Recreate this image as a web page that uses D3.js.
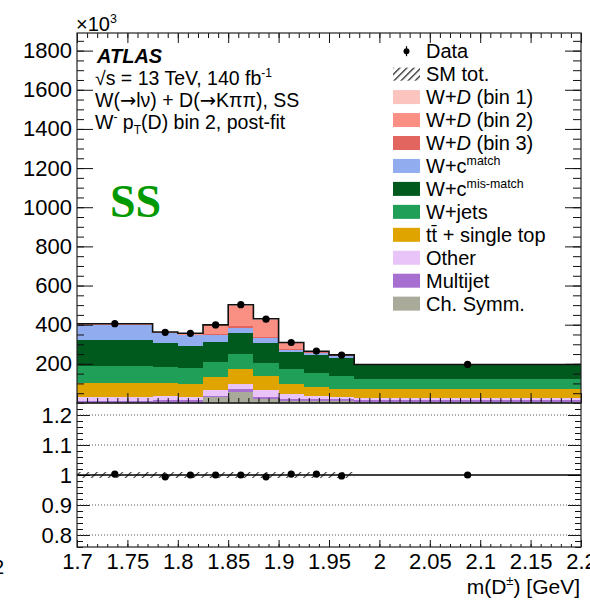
<!DOCTYPE html>
<html><head><meta charset="utf-8">
<script src="https://cdn.jsdelivr.net/npm/d3@7"></script>
<style>
html,body{margin:0;padding:0;background:#fff;}
svg{display:block;font-family:"Liberation Sans",Arial,Helvetica,sans-serif;}
</style></head><body>
<svg id="c" width="590" height="602"></svg>
<script>
// m(D) binning [GeV]
const binEdges = [1.7, 1.775, 1.8, 1.825, 1.85, 1.875, 1.9, 1.925, 1.95, 1.975, 2.2];
// post-fit yields per bin, in units of 10^3 events
const chSymm   = [2, 2, 2, 31, 55, 18, 10, 8, 8, 4];
const multijet = [9, 12, 12, 7, 14, 12, 11, 11, 10, 9];
const other    = [21, 21, 18, 28, 29, 36, 24, 16, 12, 14];
const topQuark = [69, 68, 67, 68, 78, 71, 52, 48, 44, 44];
const wJets    = [90, 79, 81, 74, 75, 68, 75, 71, 66, 53];
const wcMis    = [133, 122, 113, 104, 107, 102, 89, 90, 91, 70];
const wcMatch  = [76, 54, 53, 37, 26, 25, 12, 13, 11, 2];
const wdBin3   = [0, 1, 2, 5, 8, 4, 2, 1, 1, 0];
const wdBin2   = [3, 3, 7, 42, 106, 90, 32, 5, 2, 1];
const wdBin1   = [2, 1, 1, 3, 4, 4, 2, 1, 1, 0];
const dataVals = [405, 361, 356, 399, 502, 428, 309, 265, 245, 197];
const ratioVals = [1.003, 0.994, 1.0, 1.0, 1.0, 0.994, 1.003, 1.003, 0.997, 1.0];
// axis ticks
const yTickLabels = [200, 400, 600, 800, 1000, 1200, 1400, 1600, 1800];
const ratioTickLabels = [0.8, 0.9, 1, 1.1, 1.2];
const xTickLabels = [1.7, 1.75, 1.8, 1.85, 1.9, 1.95, 2, 2.05, 2.1, 2.15, 2.2];

// stack components, bottom to top
const components = [
  {key: "chSymm",   values: chSymm,   color: "#a9aa9a", label: [{t: "Ch. Symm."}]},
  {key: "multijet", values: multijet, color: "#a66fd0", label: [{t: "Multijet"}]},
  {key: "other",    values: other,    color: "#e8c4f8", label: [{t: "Other"}]},
  {key: "top",      values: topQuark, color: "#e0a400", label: [{t: "tt\u0304 + single top"}]},
  {key: "wjets",    values: wJets,    color: "#1f9f58", label: [{t: "W+jets"}]},
  {key: "wcMis",    values: wcMis,    color: "#005a1d", label: [{t: "W+c"}, {t: "mis-match", sup: true}]},
  {key: "wcMatch",  values: wcMatch,  color: "#92acf0", label: [{t: "W+c"}, {t: "match", sup: true}]},
  {key: "wdBin3",   values: wdBin3,   color: "#e2665f", label: [{t: "W+"}, {t: "D", it: true}, {t: " (bin 3)"}]},
  {key: "wdBin2",   values: wdBin2,   color: "#fa8f84", label: [{t: "W+"}, {t: "D", it: true}, {t: " (bin 2)"}]},
  {key: "wdBin1",   values: wdBin1,   color: "#fbc4be", label: [{t: "W+"}, {t: "D", it: true}, {t: " (bin 1)"}]}
];

const svg = d3.select("#c");
const X0 = 77, X1 = 581, TOP = 33, MID = 403, BOT = 547;

const x = d3.scaleLinear().domain([1.7, 2.2]).range([X0, X1]);
const y = d3.scaleLinear().domain([0, 1890]).range([MID, TOP]);
const ry = d3.scaleLinear().domain([0.76, 1.24]).range([BOT, MID]);

// hatch patterns for the SM uncertainty
const defs = svg.append("defs");
function hatch(id, w, sw) {
  const p = defs.append("pattern").attr("id", id).attr("patternUnits", "userSpaceOnUse")
    .attr("width", w).attr("height", w).attr("patternTransform", "rotate(45)");
  p.append("line").attr("x1", 0.6).attr("y1", 0).attr("x2", 0.6).attr("y2", w)
    .attr("stroke", "#222").attr("stroke-width", sw);
}
hatch("hatchR", 6, 1.0);
hatch("hatchL", 5, 1.4);

// table of bins
const bins = d3.range(binEdges.length - 1).map(i => {
  const o = {lo: binEdges[i], hi: binEdges[i + 1]};
  components.forEach(c => { o[c.key] = c.values[i]; });
  return o;
});
const stack = d3.stack().keys(components.map(c => c.key));
const series = stack(bins);

const gMain = svg.append("g");
series.forEach((s, k) => {
  gMain.append("g").attr("fill", components[k].color).selectAll("rect")
    .data(s).join("rect")
    .attr("x", d => x(d.data.lo))
    .attr("width", d => x(d.data.hi) - x(d.data.lo))
    .attr("y", d => y(d[1]))
    .attr("height", d => Math.max(0, y(d[0]) - y(d[1])))
    .attr("shape-rendering", "crispEdges");
});

// total prediction outline
const totals = bins.map((b, i) => ({lo: b.lo, hi: b.hi, v: series[series.length - 1][i][1]}));
const stepPts = [];
totals.forEach(t => { stepPts.push([t.lo, t.v]); stepPts.push([t.hi, t.v]); });
gMain.append("path")
  .attr("d", d3.line().x(d => x(d[0])).y(d => y(d[1]))(stepPts))
  .attr("fill", "none").attr("stroke", "#111").attr("stroke-width", 1.6);

// data points
const centers = bins.map(b => (b.lo + b.hi) / 2);
gMain.selectAll("circle.data").data(dataVals).join("circle")
  .attr("class", "data")
  .attr("cx", (d, i) => x(centers[i])).attr("cy", d => y(d)).attr("r", 3.6).attr("fill", "#000");

// ---- axes of main panel ----
function ticksRange(a, b, step) {
  const n = Math.round((b - a) / step);
  return d3.range(n + 1).map(i => +(a + i * step).toFixed(4));
}
const yMinor = ticksRange(0, 1850, 50);
const xMinor = ticksRange(1.7, 2.2, 0.01);

const axG = svg.append("g").attr("stroke-width", 1);
function styleAxis(g) {
  g.select(".domain").remove();
  g.selectAll("line").attr("stroke", "#111");
  g.selectAll("text").attr("fill", "#000").attr("font-family", "Liberation Sans, Arial, sans-serif");
}
// left
axG.append("g").attr("transform", `translate(${X0},0)`)
  .call(d3.axisLeft(y).tickValues(yMinor).tickSize(-7).tickFormat(""))
  .call(styleAxis);
axG.append("g").attr("transform", `translate(${X0},0)`)
  .call(d3.axisLeft(y).tickValues(yTickLabels).tickSize(-16).tickPadding(5).tickFormat(d3.format("d")))
  .call(styleAxis)
  .call(g => g.selectAll("text").attr("font-size", 22));
// right
axG.append("g").attr("transform", `translate(${X1},0)`)
  .call(d3.axisRight(y).tickValues(yMinor).tickSize(-8).tickFormat(""))
  .call(styleAxis);
axG.append("g").attr("transform", `translate(${X1},0)`)
  .call(d3.axisRight(y).tickValues(yTickLabels).tickSize(-16).tickFormat(""))
  .call(styleAxis);
// top and bottom of main panel
[[TOP, d3.axisTop], [MID, d3.axisBottom]].forEach(([py, ax]) => {
  axG.append("g").attr("transform", `translate(0,${py})`)
    .call(ax(x).tickValues(xMinor).tickSize(-5).tickFormat(""))
    .call(styleAxis);
  axG.append("g").attr("transform", `translate(0,${py})`)
    .call(ax(x).tickValues(xTickLabels).tickSize(-10).tickFormat(""))
    .call(styleAxis);
});
// frame
svg.append("rect").attr("x", X0).attr("y", TOP).attr("width", X1 - X0).attr("height", MID - TOP)
  .attr("fill", "none").attr("stroke", "#222").attr("stroke-width", 1.2);

// ---- ratio panel ----
const gR = svg.append("g");
ratioTickLabels.filter(v => v !== 1).forEach(v => {
  gR.append("line").attr("x1", X0).attr("x2", X1).attr("y1", ry(v)).attr("y2", ry(v))
    .attr("stroke", "#555").attr("stroke-width", 1).attr("stroke-dasharray", "1,2");
});
gR.append("rect")
  .attr("x", x(binEdges[0])).attr("width", x(binEdges[9]) - x(binEdges[0]))
  .attr("y", ry(1.01)).attr("height", ry(0.99) - ry(1.01))
  .attr("fill", "url(#hatchR)");
gR.append("line").attr("x1", X0).attr("x2", X1).attr("y1", ry(1)).attr("y2", ry(1))
  .attr("stroke", "#000").attr("stroke-width", 1.4);
gR.selectAll("circle").data(ratioVals).join("circle")
  .attr("cx", (d, i) => x(centers[i])).attr("cy", d => ry(d)).attr("r", 3.6).attr("fill", "#000");

const rMinor = ticksRange(0.76, 1.24, 0.02);
axG.append("g").attr("transform", `translate(${X0},0)`)
  .call(d3.axisLeft(ry).tickValues(rMinor).tickSize(-6).tickFormat(""))
  .call(styleAxis);
axG.append("g").attr("transform", `translate(${X0},0)`)
  .call(d3.axisLeft(ry).tickValues(ratioTickLabels).tickSize(-13).tickPadding(5).tickFormat(d => String(d)))
  .call(styleAxis)
  .call(g => g.selectAll("text").attr("font-size", 22));
axG.append("g").attr("transform", `translate(${X1},0)`)
  .call(d3.axisRight(ry).tickValues(rMinor).tickSize(-6).tickFormat(""))
  .call(styleAxis);
axG.append("g").attr("transform", `translate(${X1},0)`)
  .call(d3.axisRight(ry).tickValues(ratioTickLabels).tickSize(-13).tickFormat(""))
  .call(styleAxis);
axG.append("g").attr("transform", `translate(0,${BOT})`)
  .call(d3.axisBottom(x).tickValues(xMinor).tickSize(-3).tickFormat(""))
  .call(styleAxis);
axG.append("g").attr("transform", `translate(0,${BOT})`)
  .call(d3.axisBottom(x).tickValues(xTickLabels).tickSize(-7).tickPadding(6).tickFormat(d => String(d)))
  .call(styleAxis)
  .call(g => g.selectAll("text").attr("font-size", 22).attr("dy", "0.71em"));
svg.append("rect").attr("x", X0).attr("y", MID).attr("width", X1 - X0).attr("height", BOT - MID)
  .attr("fill", "none").attr("stroke", "#222").attr("stroke-width", 1.2);

// ---- text helpers ----
function rich(g, px, py, parts, size, anchor) {
  const t = g.append("text").attr("x", px).attr("y", py).attr("font-size", size).attr("fill", "#000");
  if (anchor) t.attr("text-anchor", anchor);
  let shift = 0;
  parts.forEach(p => {
    const ts = t.append("tspan").text(p.t);
    let target = 0;
    if (p.sup) { target = -size * 0.42; ts.attr("font-size", size * 0.62); }
    if (p.sub) { target = size * 0.28; ts.attr("font-size", size * 0.62); }
    if (p.it) ts.attr("font-style", "italic");
    if (p.font) ts.attr("font-family", p.font);
    if (target !== shift) { ts.attr("dy", target - shift); shift = target; }
  });
  return t;
}

// axis multiplier
rich(svg, 76, 31, [{t: "\u00d710"}, {t: "3", sup: true}], 20);

// x-axis title
rich(svg, 580, 594, [{t: "m(D"}, {t: "\u00b1", sup: true}, {t: ") [GeV]"}], 21, "end");

// stray label at the lower-left edge
svg.append("text").attr("x", -7).attr("y", 574).attr("font-size", 20).text("2");

// ATLAS block
svg.append("text").attr("x", 97).attr("y", 63).attr("font-size", 20)
  .attr("font-weight", "bold").attr("font-style", "italic").text("ATLAS");
rich(svg, 95, 85, [{t: "\u221as = 13 TeV, 140 fb"}, {t: "-1", sup: true}], 19.5);
const arrowFont = "DejaVu Sans, sans-serif";
rich(svg, 95, 107, [{t: "W("}, {t: "\u2192", font: arrowFont}, {t: "l\u03bd) + D("},
  {t: "\u2192", font: arrowFont}, {t: "K\u03c0\u03c0), SS"}], 19.5);
rich(svg, 95, 129, [{t: "W"}, {t: "-", sup: true}, {t: " p"}, {t: "T", sub: true}, {t: "(D) bin 2, post-fit"}], 19.5);

// channel tag
svg.append("text").attr("x", 110).attr("y", 217).attr("font-size", 46)
  .attr("font-family", "Liberation Serif, Times New Roman, serif").attr("font-weight", "bold")
  .attr("fill", "#009a00").text("SS");

// ---- legend ----
const lg = svg.append("g");
const rowY = i => 58.2 + 22.95 * i;
const legendRows = [{kind: "data", label: [{t: "Data"}]}, {kind: "sm", label: [{t: "SM tot."}]}]
  .concat(components.slice().reverse().map(c => ({kind: "fill", color: c.color, label: c.label})));
legendRows.forEach((r, i) => {
  const by = rowY(i), cy = by - 7;
  if (r.kind === "data") {
    lg.append("line").attr("x1", 406.5).attr("x2", 406.5).attr("y1", cy - 5).attr("y2", cy + 5)
      .attr("stroke", "#000").attr("stroke-width", 1.2);
    lg.append("circle").attr("cx", 406.5).attr("cy", cy).attr("r", 3).attr("fill", "#000");
  } else if (r.kind === "sm") {
    lg.append("rect").attr("x", 393).attr("y", cy - 6.5).attr("width", 27).attr("height", 13)
      .attr("fill", "url(#hatchL)");
  } else {
    lg.append("rect").attr("x", 393).attr("y", cy - 7).attr("width", 27).attr("height", 14)
      .attr("fill", r.color);
  }
  rich(lg, 426, by, r.label, 20);
});
</script>
</body></html>
